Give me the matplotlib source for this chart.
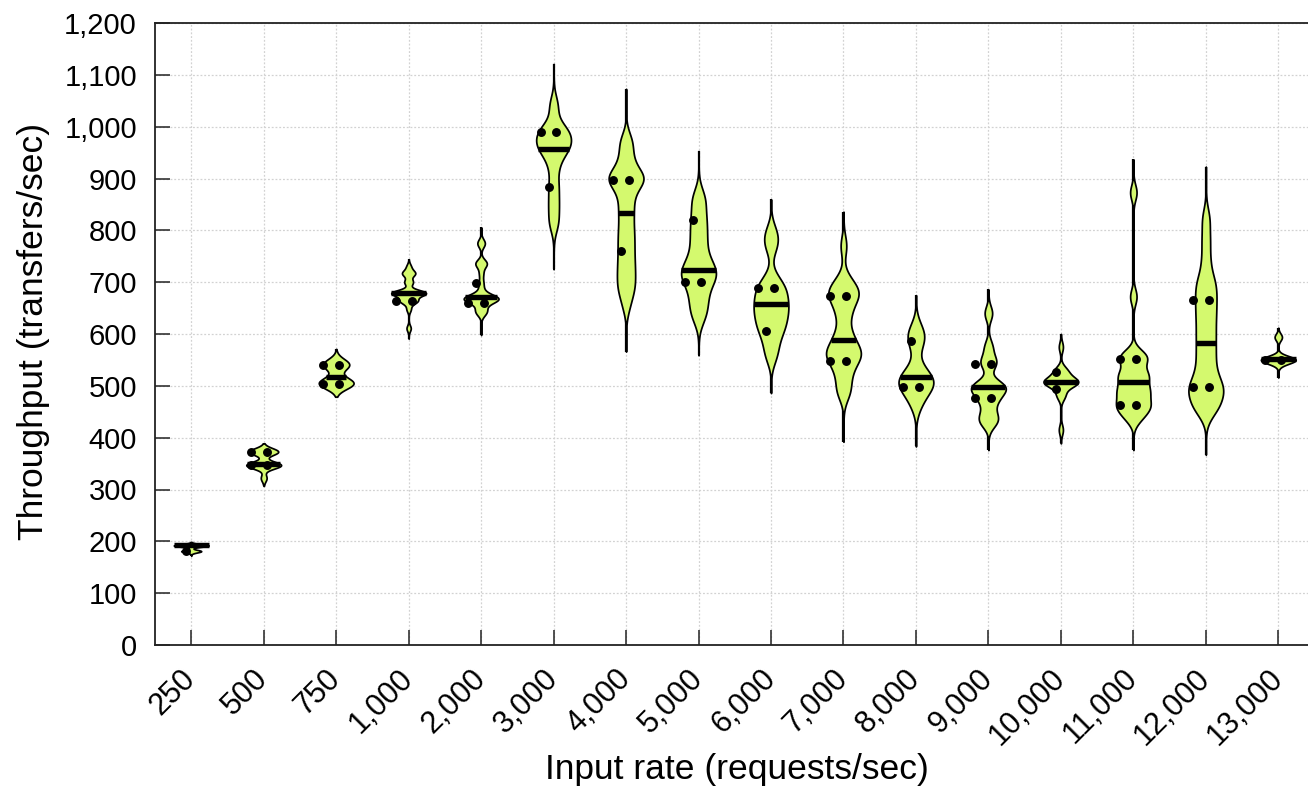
import numpy as np
import matplotlib
matplotlib.use("Agg")
import matplotlib.pyplot as plt
from matplotlib.ticker import FuncFormatter
import matplotlib.transforms as mtransforms

# ---------------- data ----------------
rate_labels = ["250", "500", "750", "1,000", "2,000", "3,000", "4,000", "5,000",
               "6,000", "7,000", "8,000", "9,000", "10,000", "11,000", "12,000", "13,000"]

# observations used to build each violin's density
samp_250 = [192] * 7 + [181] * 4
samp_500 = [373] * 5 + [347] * 6 + [322]
samp_750 = [541] * 3 + [505] * 4
samp_1000 = [679] * 8 + [664] * 4 + [648] + [700] * 2 + [717] * 3 + [730] + [611]
samp_2000 = [669] * 8 + [660] * 2 + [645] * 2 + [640, 685, 699, 717] + [736] * 3 + [775] * 2
samp_3000 = [960] * 3 + [990] * 3 + [1040, 925, 885, 850, 815]
samp_4000 = ([900] * 6 + [935] * 2 + [970] * 2 + [865] * 2 + [833] * 2 + [800] * 2
             + [770] * 2 + [740] * 2 + [712] * 2 + [685] * 2 + [655])
samp_5000 = [720] * 2 + [700, 750, 785, 820, 860, 670, 638]
samp_6000 = [685] * 2 + [660] * 2 + [638] * 2 + [612] * 2 + [585, 558, 705, 770, 795]
samp_7000 = ([557] * 4 + [575] * 2 + [600] * 2 + [640] * 2 + [675] * 4 + [700] * 2
             + [525] * 2 + [490] * 2 + [770])
samp_8000 = [505] * 3 + [530, 585, 605, 470]
samp_9000 = [498] * 4 + [475] * 2 + [545] * 2 + [575, 450] + [432] * 2 + [640]
samp_10000 = [507] * 8 + [528] * 3 + [482] * 2 + [575, 415]
samp_11000 = [555] * 4 + [520] * 4 + [490] * 4 + [462] * 4 + [440] * 2 + [873, 672]
samp_12000 = ([495] * 4 + [460] * 3 + [530] * 2 + [565] * 2 + [600] * 2 + [635] * 2
              + [668] * 2 + [700] * 2 + [740, 780, 822])
samp_13000 = [551] * 4 + [545, 594]
samples = [samp_250, samp_500, samp_750, samp_1000, samp_2000, samp_3000, samp_4000,
           samp_5000, samp_6000, samp_7000, samp_8000, samp_9000, samp_10000,
           samp_11000, samp_12000, samp_13000]

bandwidths = [2.5, 6.8, 11, 6, 8, 20, 20, 22, 20, 20, 22, 14, 10, 15, 22, 7]

# full extent of each violin (min / max)
range_lo = [172, 307, 479, 591, 598, 725, 566, 559, 486, 392, 383, 376, 389, 376, 367, 516]
range_hi = [199, 389, 571, 744, 806, 1121, 1073, 953, 860, 836, 675, 686, 600, 937, 923, 612]

medians = [192, 349, 518, 679, 672, 957, 833, 723, 657, 588, 517, 498, 507, 508, 582, 551]

dots_250 = [182]
dots_500 = [373, 373, 347, 347]
dots_750 = [540, 540, 504, 504]
dots_1000 = [664, 664]
dots_2000 = [699, 659, 659]
dots_3000 = [990, 990, 884]
dots_4000 = [898, 898, 760]
dots_5000 = [820, 700, 700]
dots_6000 = [688, 688, 606]
dots_7000 = [673, 673, 548, 548]
dots_8000 = [586, 498, 498]
dots_9000 = [543, 543, 477, 477]
dots_10000 = [527, 494]
dots_11000 = [551, 551, 463, 463]
dots_12000 = [666, 666, 497, 497]
dots_13000 = [549, 549]
dots = [dots_250, dots_500, dots_750, dots_1000, dots_2000, dots_3000, dots_4000,
        dots_5000, dots_6000, dots_7000, dots_8000, dots_9000, dots_10000,
        dots_11000, dots_12000, dots_13000]

# ---------------- style ----------------
plt.rcParams["font.family"] = ["Liberation Sans", "DejaVu Sans"]
FILL = "#d4f96e"
HALF_W = 0.24

W, H = 1308, 791
fig = plt.figure(figsize=(W / 100, H / 100), dpi=100)
px_per_unit = 72.47
ax = fig.add_axes([155 / W, 146 / H, 16 * px_per_unit / W, 622 / H])

for i, (s, h, lo, hi, med, dv) in enumerate(zip(samples, bandwidths, range_lo,
                                                 range_hi, medians, dots)):
    s = np.asarray(s, dtype=float)
    grid = np.linspace(lo, hi, 800)
    dens = np.exp(-0.5 * ((grid[:, None] - s[None, :]) / h) ** 2).sum(axis=1)
    w = dens / dens.max() * HALF_W
    ax.vlines(i, lo, hi, color="black", linewidth=1.6, zorder=2.5)
    ax.fill_betweenx(grid, i - w, i + w, facecolor=FILL, edgecolor="black",
                     linewidth=1.25, zorder=3)
    mw = np.interp(med, grid, w)
    ax.hlines(med, i - mw, i + mw, color="black", linewidth=3.9, zorder=4,
              capstyle="butt")
    # dots: shifted a little left, identical values spread side by side
    vals = np.asarray(dv, dtype=float)
    xs = []
    for j, v in enumerate(vals):
        n_same = np.sum(vals == v)
        if n_same > 1:
            k = int(np.sum(vals[:j] == v))
            xs.append(i - 0.07 + (-0.11 if k == 0 else 0.11))
        else:
            xs.append(i - 0.07)
    ax.plot(xs, vals, "o", color="black", markersize=5.4, zorder=5)

ax.set_xlim(-0.5, 15.5)
ax.set_ylim(0, 1200)
ax.set_yticks(np.arange(0, 1201, 100))
ax.yaxis.set_major_formatter(FuncFormatter(lambda v, p: f"{v:,.0f}"))
ax.set_xticks(np.arange(len(rate_labels)))
ax.set_xticklabels(rate_labels)

ax.grid(True, color="#d2d2d2", linestyle=(0, (1.5, 1.5)), linewidth=0.9, zorder=0)
ax.set_axisbelow(True)

for sp in ax.spines.values():
    sp.set_linewidth(1.3)
    sp.set_color("#222222")

ax.tick_params(axis="both", direction="in", length=11, width=1.1, labelsize=21,
               colors="#222222", labelcolor="black")
ax.tick_params(axis="x", labelsize=22)
ax.tick_params(axis="y", pad=13)
ax.tick_params(axis="x", pad=21)

offset = mtransforms.ScaledTranslation(0, 0, fig.dpi_scale_trans)
for lab in ax.get_xticklabels():
    lab.set_rotation(45)
    lab.set_ha("right")
    lab.set_va("center")
    lab.set_rotation_mode("anchor")
    lab.set_transform(lab.get_transform() + offset)

ax.set_xlabel("Input rate (requests/sec)", fontsize=25.5)
ax.set_ylabel("Throughput (transfers/sec)", fontsize=25.5)
ax.xaxis.set_label_coords((737 - 155) / (16 * px_per_unit), (645 - 753) / 622)
ax.yaxis.set_label_coords((50 - 155) / (16 * px_per_unit), (645 - 331) / 622)

fig.savefig("out.png", dpi=100)
